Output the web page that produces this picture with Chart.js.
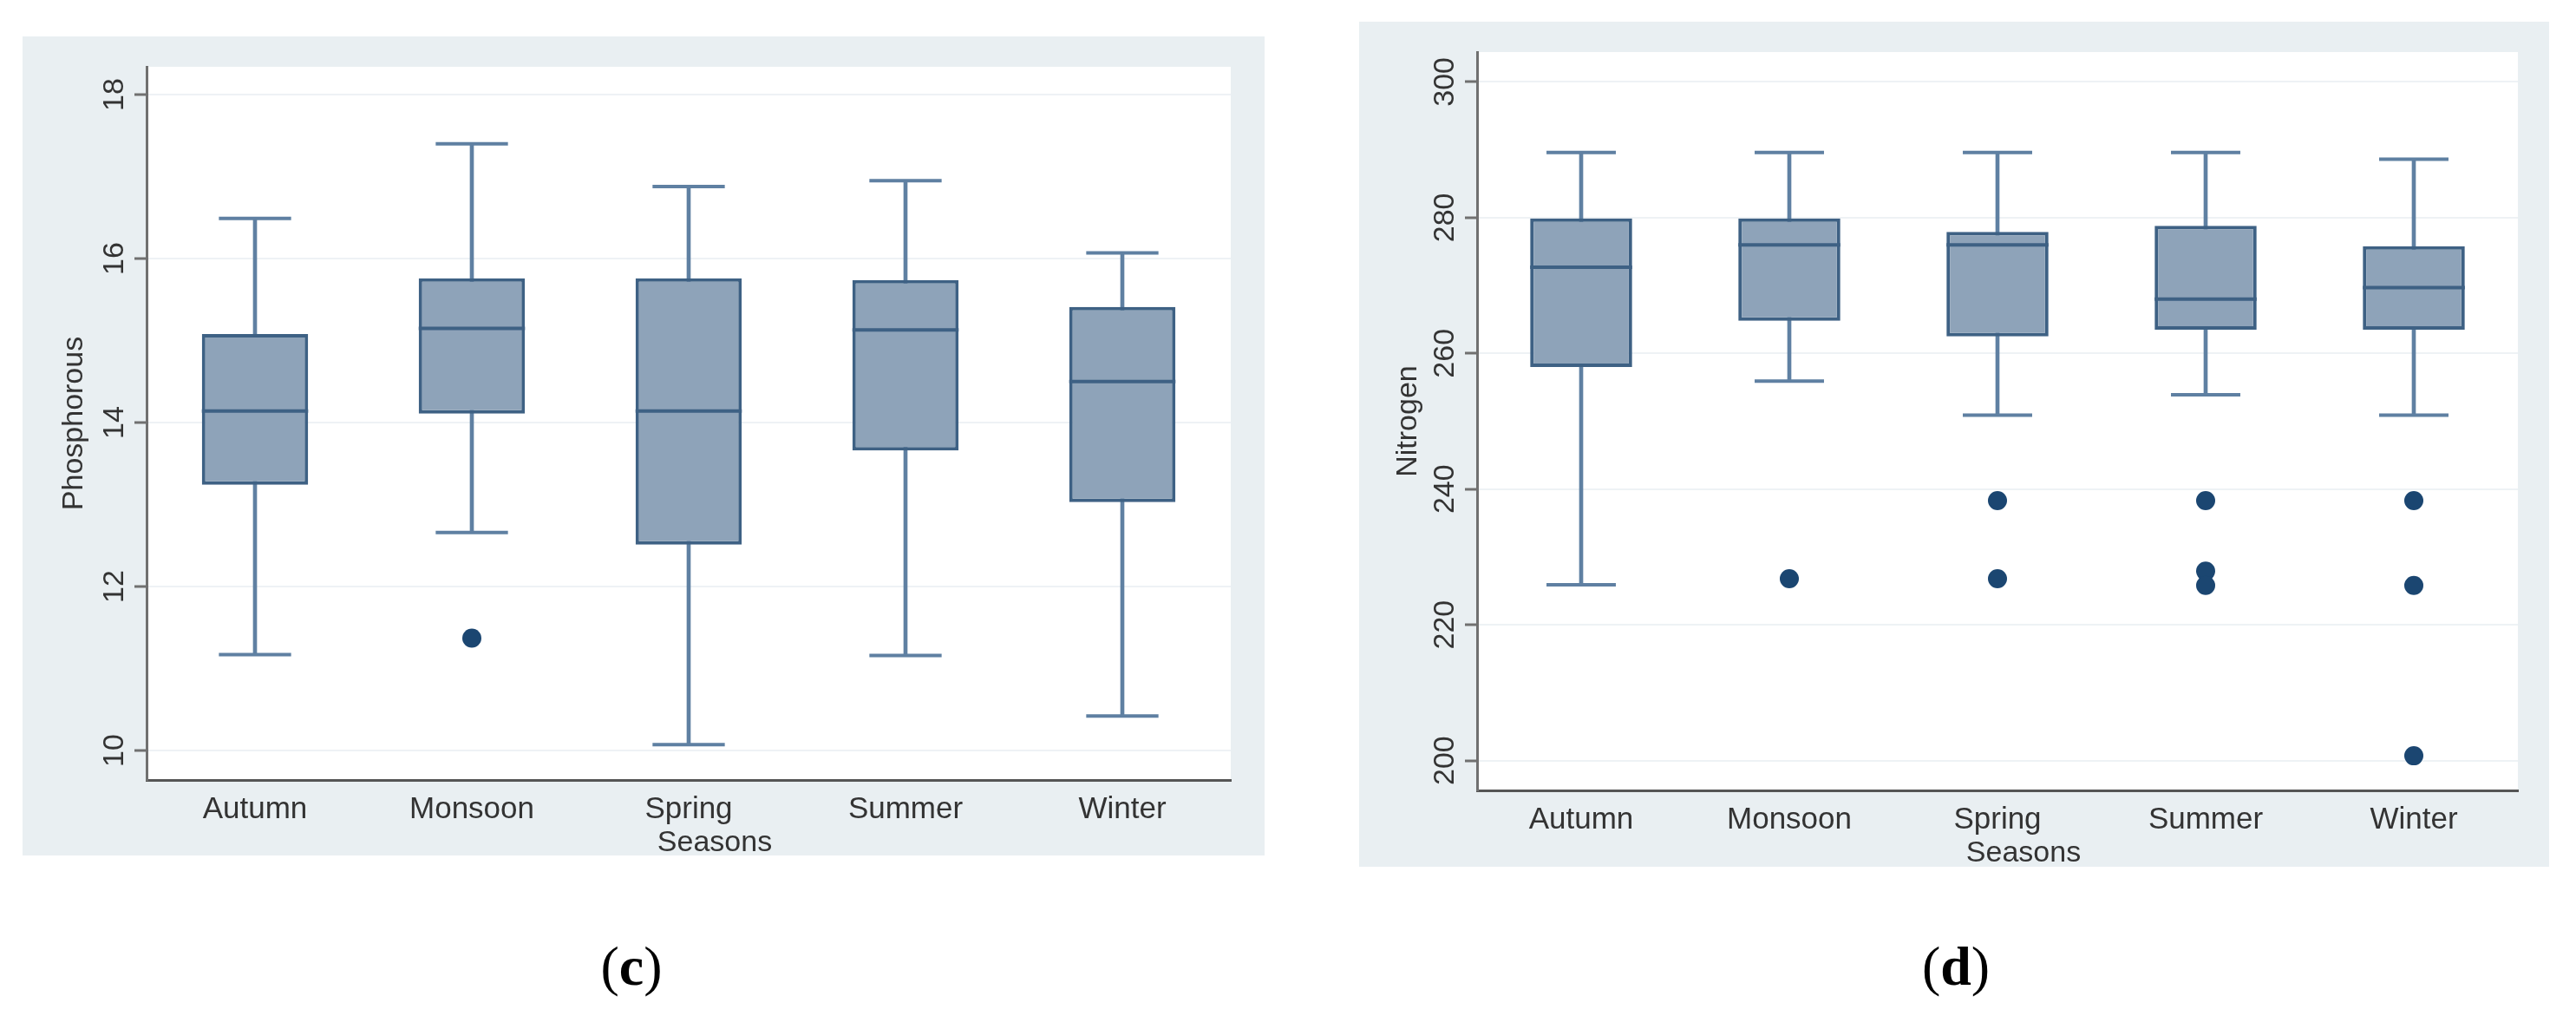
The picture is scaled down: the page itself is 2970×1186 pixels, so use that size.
<!DOCTYPE html>
<html>
<head>
<meta charset="utf-8">
<title>Phosphorous and Nitrogen by season</title>
<script src="https://cdn.jsdelivr.net/npm/chart.js@4.4.1/dist/chart.umd.min.js"></script>
<style>
    html, body { margin: 0; padding: 0; background: #fff; width: 2970px; height: 1186px; overflow: hidden; }
    .panel { position: absolute; background: #e9eff2; }
    .panel canvas { display: block; }
    .caption {
        position: absolute; transform: translate(-50%, -50%); line-height: 1;
        font-family: "Liberation Serif", "DejaVu Serif", serif; font-size: 64px; color: #000;
    }
</style>
</head>
<body>
<div class="panel" style="left:26px; top:42px; width:1432px; height:944px;">
    <canvas id="phosChart" width="1432" height="944"></canvas>
</div>
<div class="panel" style="left:1567px; top:25px; width:1372px; height:974px;">
    <canvas id="nitroChart" width="1372" height="974"></canvas>
</div>
<div class="caption" style="left:728px; top:1114px;">(<b>c</b>)</div>
<div class="caption" style="left:2255px; top:1114px;">(<b>d</b>)</div>

<script>
const seasons = ['Autumn', 'Monsoon', 'Spring', 'Summer', 'Winter'];

// panel (c) - phosphorous
const phosLow = [11.17, 12.66, 10.07, 11.16, 10.42];
const phosQ1 = [13.24, 14.11, 12.51, 13.66, 13.03];
const phosMedian = [14.14, 15.15, 14.14, 15.13, 14.50];
const phosQ3 = [15.08, 15.76, 15.76, 15.74, 15.41];
const phosHigh = [16.49, 17.40, 16.88, 16.95, 16.07];
const phosOutliers = [[], [11.37], [], [], []];
const phosTicks = [10, 12, 14, 16, 18];
const phosRange = [9.64, 18.34];

// panel (d) - nitrogen
const nitroLow = [225.9, 255.9, 250.9, 253.9, 250.9];
const nitroQ1 = [258.0, 264.8, 262.5, 263.5, 263.5];
const nitroMedian = [272.7, 276.0, 276.0, 268.0, 269.7];
const nitroQ3 = [279.9, 279.9, 277.9, 278.8, 275.8];
const nitroHigh = [289.6, 289.6, 289.6, 289.6, 288.6];
const nitroOutliers = [[], [226.8], [238.3, 226.8], [238.3, 227.9, 225.8], [238.3, 225.8, 200.7]];
const nitroTicks = [200, 220, 240, 260, 280, 300];
const nitroRange = [195.6, 304.4];

const boxFill = '#8ea3b9';
const boxLine = '#3e6184';
const whiskerColor = '#5f80a2';
const dotColor = '#1b4671';
const axisColor = '#707070';
const textColor = '#333333';
const sansFont = '"Liberation Sans", Arial, sans-serif';

// white plot area, medians, whisker caps and all the axis text
const boxExtras = {
    id: 'boxExtras',
    beforeDraw(chart) {
        const { ctx, chartArea: a } = chart;
        ctx.save();
        ctx.fillStyle = '#ffffff';
        ctx.fillRect(a.left, a.top, a.right - a.left, a.bottom - a.top);
        ctx.restore();
    },
    afterDatasetsDraw(chart, args, opts) {
        const { ctx } = chart;
        const y = chart.scales.y;
        const boxes = chart.getDatasetMeta(1).data;
        ctx.save();
        ctx.lineCap = 'butt';
        boxes.forEach((bar, i) => {
            const half = bar.width / 2;
            ctx.strokeStyle = boxLine;
            ctx.lineWidth = 4;
            const my = y.getPixelForValue(opts.median[i]);
            ctx.beginPath();
            ctx.moveTo(bar.x - half, my);
            ctx.lineTo(bar.x + half, my);
            ctx.stroke();

            const capHalf = half * 0.68;
            ctx.strokeStyle = whiskerColor;
            [opts.low[i], opts.high[i]].forEach(v => {
                const py = y.getPixelForValue(v);
                ctx.beginPath();
                ctx.moveTo(bar.x - capHalf, py);
                ctx.lineTo(bar.x + capHalf, py);
                ctx.stroke();
            });
        });
        ctx.restore();
    },
    afterDraw(chart, args, opts) {
        const { ctx, chartArea: a } = chart;
        const x = chart.scales.x;
        const y = chart.scales.y;
        ctx.save();
        ctx.fillStyle = textColor;
        ctx.font = '34px ' + sansFont;
        ctx.textAlign = 'center';
        ctx.textBaseline = 'alphabetic';

        y.ticks.forEach(t => {
            ctx.save();
            ctx.translate(a.left - 27, y.getPixelForValue(t.value));
            ctx.rotate(-Math.PI / 2);
            ctx.fillText(String(t.value), 0, 0);
            ctx.restore();
        });

        ctx.save();
        ctx.translate(a.left - opts.titleGap, (a.top + a.bottom) / 2);
        ctx.rotate(-Math.PI / 2);
        ctx.fillText(opts.yTitle, 0, 0);
        ctx.restore();

        ctx.font = '35px ' + sansFont;
        seasons.forEach((s, i) => {
            ctx.fillText(s, x.getPixelForValue(i), a.bottom + 44);
        });
        ctx.font = '34px ' + sansFont;
        ctx.fillText('Seasons', (a.left + a.right) / 2 + 30, a.bottom + 82);
        ctx.restore();
    }
};

const makeBoxChart = (canvasId, p) => {
    const ctx = document.getElementById(canvasId).getContext('2d');
    const dots = [];
    p.outliers.forEach((list, i) => list.forEach(v => dots.push({ x: seasons[i], y: v })));

    return new Chart(ctx, {
        type: 'bar',
        data: {
            labels: seasons,
            datasets: [
                {
                    type: 'line',
                    data: dots,
                    showLine: false,
                    pointRadius: 11,
                    pointBorderWidth: 0,
                    pointBackgroundColor: dotColor,
                    order: 0
                },
                {
                    data: p.q1.map((v, i) => [v, p.q3[i]]),
                    backgroundColor: boxFill,
                    borderColor: boxLine,
                    borderWidth: 4,
                    borderSkipped: false,
                    grouped: false,
                    categoryPercentage: 1,
                    barPercentage: 0.49,
                    order: 1
                },
                {
                    data: p.low.map((v, i) => [v, p.high[i]]),
                    backgroundColor: whiskerColor,
                    borderWidth: 0,
                    grouped: false,
                    barThickness: 4,
                    order: 2
                }
            ]
        },
        options: {
            responsive: false,
            devicePixelRatio: 1,
            animation: false,
            events: [],
            layout: { padding: { top: p.padTop, right: p.padRight, left: 0, bottom: 0 } },
            plugins: {
                legend: { display: false },
                tooltip: { enabled: false },
                boxExtras: {
                    median: p.median, low: p.low, high: p.high,
                    yTitle: p.title, titleGap: p.titleGap
                }
            },
            scales: {
                x: {
                    type: 'category',
                    offset: true,
                    grid: { display: false },
                    border: { display: true, color: '#555555', width: 3 },
                    ticks: { display: false },
                    afterFit: s => { s.height = p.axisHeight; }
                },
                y: {
                    min: p.range[0],
                    max: p.range[1],
                    afterBuildTicks: s => { s.ticks = p.ticks.map(v => ({ value: v })); },
                    grid: {
                        color: '#eef2f5', lineWidth: 2,
                        drawTicks: true, tickLength: 14, tickColor: axisColor, tickWidth: 3
                    },
                    border: { display: true, color: axisColor, width: 3 },
                    ticks: { display: false },
                    afterFit: s => { s.width = p.axisWidth; }
                }
            }
        },
        plugins: [boxExtras]
    });
};

const renderCharts = () => {
    makeBoxChart('phosChart', {
        low: phosLow, q1: phosQ1, median: phosMedian, q3: phosQ3, high: phosHigh,
        outliers: phosOutliers, ticks: phosTicks, range: phosRange, title: 'Phosphorous',
        axisWidth: 143, axisHeight: 87, padTop: 35, padRight: 39, titleGap: 74
    });
    makeBoxChart('nitroChart', {
        low: nitroLow, q1: nitroQ1, median: nitroMedian, q3: nitroQ3, high: nitroHigh,
        outliers: nitroOutliers, ticks: nitroTicks, range: nitroRange, title: 'Nitrogen',
        axisWidth: 136, axisHeight: 88, padTop: 35, padRight: 36, titleGap: 70
    });
};

document.addEventListener('DOMContentLoaded', renderCharts);
</script>
</body>
</html>
